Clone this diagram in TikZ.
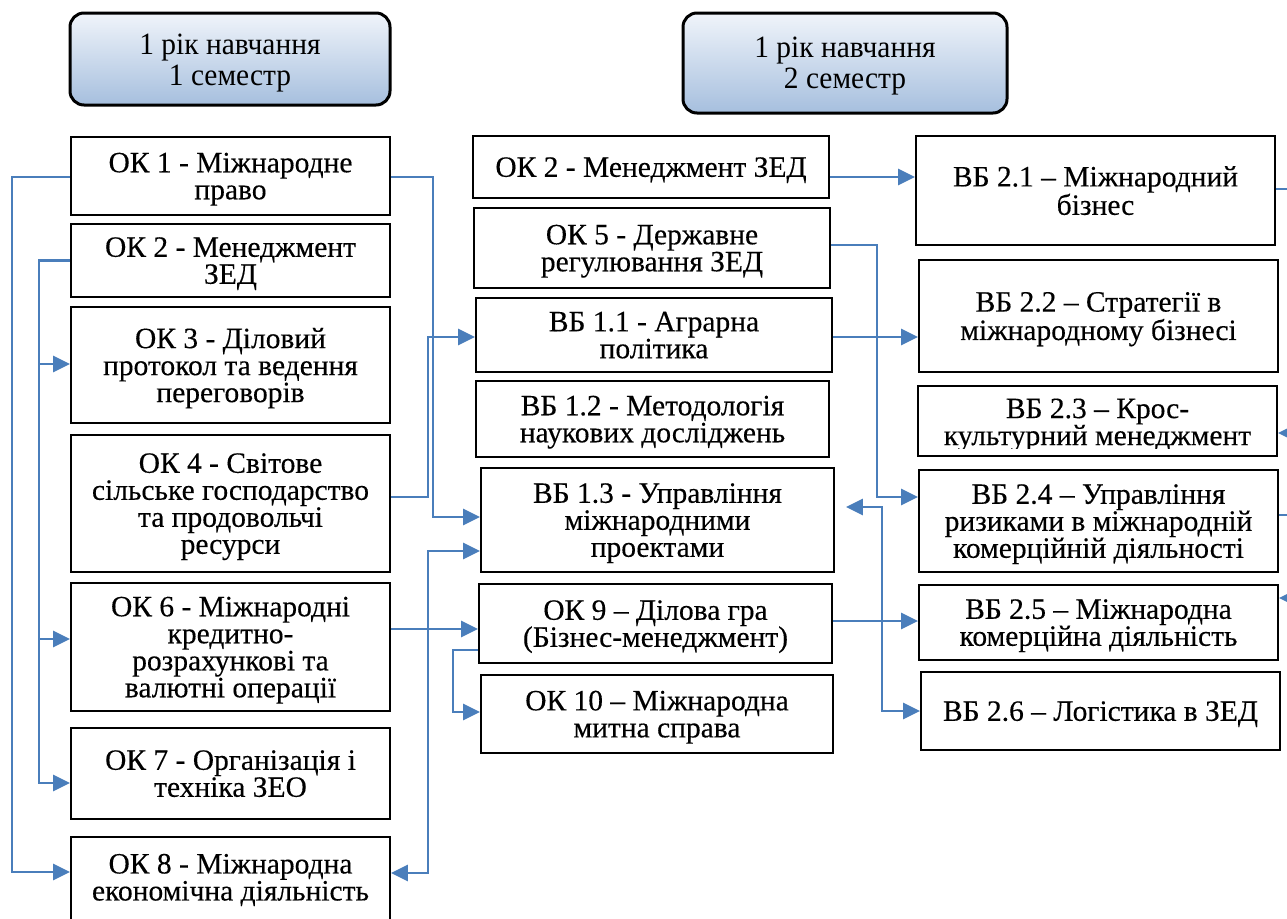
\documentclass[tikz,border=0pt]{standalone}
\usepackage{fontspec}
\setmainfont{Liberation Serif}[FakeBold=0.3]
\newfontfamily\hdrfont[FakeStretch=0.95]{Liberation Serif}
\usetikzlibrary{arrows.meta}
\definecolor{lblue}{RGB}{74,126,187}
\definecolor{htop}{RGB}{240,244,250}
\definecolor{hbot}{RGB}{166,191,222}
\tikzset{
  box/.style={draw=black, line width=1.8pt, inner sep=0pt, align=center, font=\fontsize{29.5}{27}\selectfont, text depth=-4pt},
  txt/.style={inner sep=0pt, align=center, font=\fontsize{29.5}{27}\selectfont},
  hdr/.style={draw=black, line width=3pt, rounded corners=14pt, top color=htop, bottom color=hbot, inner sep=0pt},
  hdrtxt/.style={inner sep=0pt, align=center, font=\hdrfont\fontsize{31}{31}\selectfont},
  conn/.style={draw=lblue, line width=2.6pt},
  arr/.style={conn, -{Triangle[length=17pt,width=16pt]}},
  arrtwo/.style={conn, {Triangle[length=17pt,width=16pt]}-{Triangle[length=17pt,width=16pt]}}
}
\begin{document}
\begin{tikzpicture}[x=1pt,y=-1pt]
\useasboundingbox (0,0) rectangle (1287,918);
% headers
\node[hdr, minimum width=320, minimum height=92] (h1) at (230,59) {};
\node[hdrtxt] (h1t) at (230,63) {1 рік навчання\\1 семестр};
\node[hdr, minimum width=324, minimum height=100] (h2) at (845,63) {};
\node[hdrtxt] (h2t) at (845,66) {1 рік навчання\\2 семестр};
% left column
\node[box, minimum width=319, minimum height=78] (ok1) at (230.5,176) {ОК 1 - Міжнародне\\право};
\node[box, minimum width=319, minimum height=73] (ok2) at (230.5,260.5) {ОК 2 - Менеджмент\\ЗЕД};
\node[box, minimum width=319, minimum height=116] (ok3) at (230.5,365) {ОК 3 - Діловий\\протокол та ведення\\переговорів};
\node[box, minimum width=319, minimum height=137] (ok4) at (230.5,503.5) {ОК 4 - Світове\\сільське господарство\\та продовольчі\\ресурси};
\node[box, minimum width=319, minimum height=128] (ok6) at (230.5,647) {ОК 6 - Міжнародні\\кредитно-\\розрахункові та\\валютні операції};
\node[box, minimum width=319, minimum height=91] (ok7) at (230.5,773.5) {ОК 7 - Організація і\\техніка ЗЕО};
\node[box, minimum width=319, minimum height=92] (ok8) at (230.5,883) {};
\node[txt] (ok8t) at (230.5,880) {ОК 8 - Міжнародна\\економічна діяльність};
% middle column
\node[box, minimum width=356, minimum height=62] (mok2) at (651,167) {ОК 2 - Менеджмент ЗЕД};
\node[box, minimum width=356, minimum height=80] (ok5) at (652,248) {ОК 5 - Державне\\регулювання ЗЕД};
\node[box, minimum width=356, minimum height=74] (vb11) at (654,335) {ВБ 1.1 - Аграрна\\політика};
\node[box, minimum width=353, minimum height=76] (vb12) at (652.5,419) {ВБ 1.2 - Методологія\\наукових досліджень};
\node[box, minimum width=353, minimum height=104] (vb13) at (657.5,520) {ВБ 1.3 - Управління\\міжнародними\\проектами};
\node[box, minimum width=353, minimum height=79] (ok9) at (655.5,623.5) {ОК 9 – Ділова гра\\(Бізнес-менеджмент)};
\node[box, minimum width=352, minimum height=78] (ok10) at (657,714) {ОК 10 – Міжнародна\\митна справа};
% right column
\node[box, minimum width=359, minimum height=109] (vb21) at (1095.5,190.5) {ВБ 2.1 – Міжнародний\\бізнес};
\node[box, minimum width=359, minimum height=112] (vb22) at (1098.5,316) {ВБ 2.2 – Стратегії в\\міжнародному бізнесі};
\node[box, minimum width=359, minimum height=70] (vb23) at (1097.5,421) {};
\begin{scope}
\clip (918,386) rectangle (1277,448);
\node[txt] (vb23t) at (1097.5,425) {ВБ 2.3 – Крос-\\культурний менеджмент};
\end{scope}
\node[box, minimum width=359, minimum height=102] (vb24) at (1098.5,521) {ВБ 2.4 – Управління\\ризиками в міжнародній\\комерційній діяльності};
\node[box, minimum width=359, minimum height=75] (vb25) at (1098.5,622.5) {ВБ 2.5 – Міжнародна\\комерційна діяльність};
\node[box, minimum width=359, minimum height=78] (vb26) at (1100.5,711) {ВБ 2.6 – Логістика в ЗЕД};
% edge coordinates
\coordinate (e1) at (1300,189);
\coordinate (e3) at (1300,433);
\coordinate (e4) at (1300,515);
\coordinate (e5) at (1300,598);
\coordinate (j3) at (39,364);
\coordinate (j6) at (39,639);
% left connectors
\draw[arr] (ok1.west |- 0,177) -- (12,177) |- (ok8.west |- 0,872);
\draw[arr] (ok2.west) -- (39,260.5) |- (ok7.west |- 0,783);
\draw[arr] (j3) -- (ok3.west |- 0,364);
\draw[arr] (j6) -- (ok6.west |- 0,639);
\draw[arr] (ok1.east |- 0,177) -- (433,177) |- (vb13.west |- 0,517);
\draw[arr] (ok4.east |- 0,497) -- (428,497) |- (vb11.west |- 0,337);
\draw[arrtwo] (ok8.east |- 0,873) -- (428,873) |- (vb13.west |- 0,551);
\draw[arr] (ok6.east |- 0,629) -- (ok9.west |- 0,629);
\draw[arr] (ok9.west |- 0,650) -- (453,650) |- (ok10.west |- 0,712);
% middle-right connectors
\draw[arr] (mok2.east |- 0,177) -- (vb21.west |- 0,177);
\draw[arr] (ok5.east |- 0,245) -- (877,245) |- (vb24.west |- 0,497);
\draw[arr] (vb11.east |- 0,337) -- (vb22.west |- 0,337);
\draw[arrtwo, shorten <=11pt] (vb13.east |- 0,507) -- (882,507) |- (vb26.west |- 0,711);
\draw[arr] (ok9.east |- 0,621) -- (vb25.west |- 0,621);
% right edge connectors
\draw[conn] (vb21.east |- 0,189) -- (e1);
\draw[arr] (e3) -- (vb23.east |- 0,433);
\draw[conn] (vb24.east |- 0,515) -- (e4);
\draw[arr] (e5) -- (vb25.east |- 0,598);
\end{tikzpicture}
\end{document}
